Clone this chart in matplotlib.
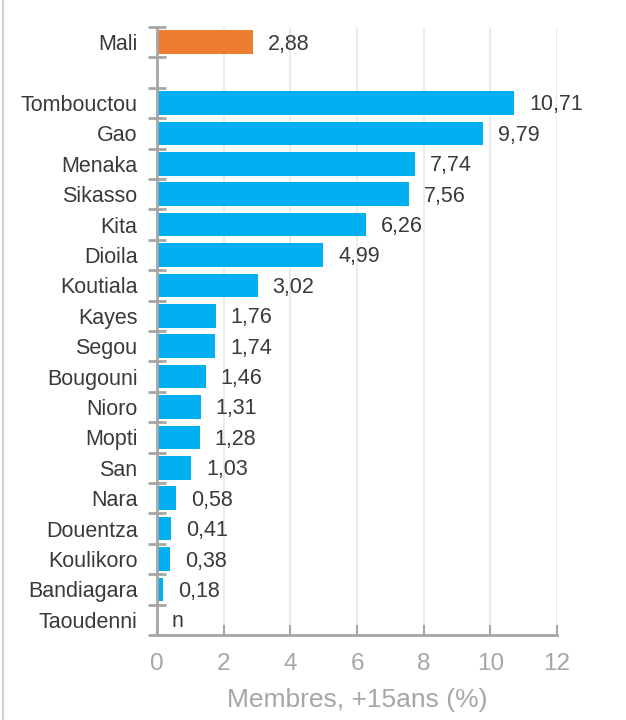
import matplotlib
matplotlib.use("Agg")
import matplotlib.pyplot as plt
from matplotlib.lines import Line2D
import numpy as np

plt.rcParams['font.family'] = ['Liberation Sans', 'DejaVu Sans']

categories = ["Mali", "", "Tombouctou", "Gao", "Menaka", "Sikasso", "Kita", "Dioila",
              "Koutiala", "Kayes", "Segou", "Bougouni", "Nioro", "Mopti", "San",
              "Nara", "Douentza", "Koulikoro", "Bandiagara", "Taoudenni"]
values = [2.88, np.nan, 10.71, 9.79, 7.74, 7.56, 6.26, 4.99, 3.02, 1.76, 1.74, 1.46,
          1.31, 1.28, 1.03, 0.58, 0.41, 0.38, 0.18, 0.0]
value_labels = ["2,88", "", "10,71", "9,79", "7,74", "7,56", "6,26", "4,99", "3,02",
                "1,76", "1,74", "1,46", "1,31", "1,28", "1,03", "0,58", "0,41", "0,38",
                "0,18", "n"]
xticks = [0, 2, 4, 6, 8, 10, 12]
xlabel = "Membres, +15ans (%)"

ORANGE = "#ED7D31"
BLUE = "#00B0F0"
AXIS_GRAY = "#A6A6A6"
GRID = "#E8E8E8"
TXT = "#3A3A3A"

fig = plt.figure(figsize=(6.26, 7.2), dpi=100)
ax = fig.add_axes([157/626, 85/720, 400/626, 608/720])

y = np.arange(len(categories))
colors = [ORANGE] + [BLUE] * (len(categories) - 1)
vals = np.nan_to_num(np.array(values, dtype=float))
ax.barh(y, vals, height=0.78, color=colors, edgecolor="none", zorder=3)

for yi, v, lab in zip(y, vals, value_labels):
    if lab:
        ax.annotate(lab, (v, yi), xytext=(15, -2), textcoords="offset pixels",
                    ha="left", va="center", fontsize=15.5, color=TXT)

ax.set_xlim(0, 12)
ax.set_ylim(len(categories) - 0.5, -0.5)
ax.set_xticks(xticks)
ax.set_xticklabels([str(t) for t in xticks])
ax.set_yticks(np.arange(len(categories) + 1) - 0.5)
ax.set_yticklabels([])
ax.set_yticks(y, minor=True)
ax.set_yticklabels(categories, minor=True)

ax.tick_params(axis="y", which="major", direction="inout", length=13, width=2, color=AXIS_GRAY)
ax.tick_params(axis="y", which="minor", length=0, pad=14, labelsize=15.5, labelcolor=TXT)
ax.tick_params(axis="x", direction="in", length=7, width=1.5, color=AXIS_GRAY,
               labelsize=17.5, labelcolor=AXIS_GRAY, pad=13)

ax.grid(axis="x", color=GRID, linewidth=1.2, zorder=0)
ax.set_axisbelow(True)
for s in ["top", "right"]:
    ax.spines[s].set_visible(False)
ax.spines["left"].set_color(AXIS_GRAY)
ax.spines["left"].set_linewidth(2)
ax.spines["left"].set_zorder(4)
ax.spines["bottom"].set_color(AXIS_GRAY)
ax.spines["bottom"].set_linewidth(2)

ax.set_xlabel(xlabel, fontsize=19, color=AXIS_GRAY, labelpad=9)

fig.add_artist(Line2D([2.5/626, 2.5/626], [0, 1], transform=fig.transFigure,
                      color="#D0D0D0", linewidth=1.5))

fig.savefig("out.png", dpi=100)
